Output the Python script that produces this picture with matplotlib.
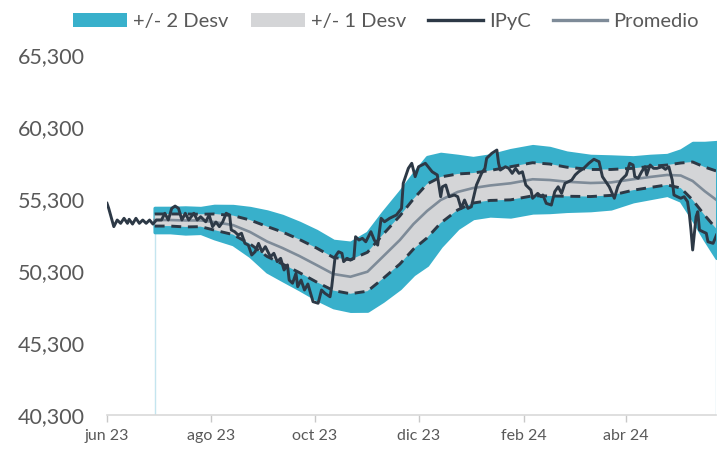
import matplotlib
matplotlib.use("Agg")
import matplotlib.pyplot as plt
from matplotlib.lines import Line2D
from matplotlib.patches import Patch
import pandas as pd

plt.rcParams["font.family"] = ["Lato", "DejaVu Sans"]

# --- datos ---
inicio = pd.Timestamp("2023-06-01")
fin = pd.Timestamp("2024-05-24")

# IPyC: dias desde el inicio y nivel
dias_ipyc = [
    0, 1, 4, 6, 8, 10, 12, 13, 15, 17, 19, 21, 23, 25, 27, 29, 32, 34, 36, 38,
    40, 42, 44, 46, 48, 51, 53, 55, 58, 60,
    62, 64, 66, 68, 70, 72, 73, 75, 77, 79, 81, 83, 85, 87, 89, 91, 93, 96, 98, 100,
    102, 104, 106, 107, 109, 111, 112, 114, 116, 118,
    121, 124, 126, 128, 131, 132, 134, 136, 138, 139, 141, 143, 145, 146, 148, 150,
    152, 155, 157, 159, 161, 163, 166, 170, 173, 174, 176, 177,
    179, 181, 183, 187, 191, 194, 196, 197, 199, 201, 204, 206, 208, 210, 212, 214,
    217, 220, 222, 223, 226, 229, 230, 231, 234, 236,
    238, 240, 242, 244, 246, 249, 250, 253, 255, 256, 258, 261, 263, 265, 267, 269,
    271, 273, 275, 277, 280, 283, 286, 289, 291, 293, 295,
    298, 300, 302, 305, 307, 309, 310, 312, 314, 316, 317, 319, 321, 323, 326, 328,
    330, 332, 333, 335, 337, 339, 341, 342, 343, 344, 346, 347, 348, 350, 352, 353,
    356, 358,
]
ipyc = [
    55000, 54650, 53380, 53840, 53610, 53960, 53610, 53890, 53560, 53960,
    53610, 53840, 53610, 53840, 53560, 53840, 53840, 54310, 53840, 54650,
    54810, 54650, 53840, 54310, 53840, 54310, 53840, 54070, 53720, 54190,
    53380, 53700, 53380, 53720, 54310, 54190, 53150, 53030, 52800, 52920,
    52220, 52100, 51410, 51640, 52220, 51640, 51990, 51290, 51530, 50950,
    51180, 50370, 50720, 49670, 49450, 50140, 49210, 49670, 48980, 49400,
    48170, 48060, 48980, 48750, 48510, 49210, 51290, 51640, 51530, 50950,
    51180, 51060, 51180, 52680, 52450, 52570, 52330, 53030, 52450, 52100,
    53960, 53720, 53960, 54190, 54650, 56390, 57080, 57430,
    57780, 56850, 57540, 57780, 57190, 56970, 55460, 56150, 56270, 55460,
    55580, 55460, 54650, 55230, 54650, 54760, 56270, 57080, 57430, 58130,
    58470, 58700, 57780, 57310, 57540, 57430,
    57080, 57430, 57080, 57190, 56270, 55920, 55350, 55690, 55460, 55580,
    55000, 54880, 55810, 56150, 55690, 56390, 56500, 56620, 56970, 57190,
    57430, 57780, 58060, 57890, 56850, 56500, 56150,
    55350, 56150, 56620, 56970, 57780, 57660, 56850, 56740, 57190, 57540,
    56970, 57660, 57430, 57430, 57540, 57360, 57540, 56620, 55580, 55460,
    55350, 55460, 55110, 54310, 53150, 51760, 54070, 54420, 53150, 53030,
    52920, 52330, 52220, 52800,
]

# bandas: promedio movil y una desviacion estandar
dias_banda = [
    28, 37, 46, 55, 63, 74, 84, 94, 103, 113, 123, 133, 143, 153, 162, 172, 180,
    188, 196, 206, 215, 225, 237, 250, 260, 270, 284, 296, 309, 319, 329, 337,
    344, 351, 358,
]
promedio = [
    53840, 53840, 53810, 53810, 53700, 53490, 53010, 52350, 51900, 51340,
    50720, 50090, 49900, 50250, 51290, 52450, 53560, 54470, 55230, 55790,
    56060, 56240, 56390, 56670, 56620, 56500, 56410, 56450, 56670, 56830,
    56970, 56930, 56550, 55850, 55230,
]
desv = [
    420, 420, 450, 430, 560, 660, 830, 1040, 1110, 1150,
    1180, 1150, 1180, 1350, 1530, 1670, 1740, 1870, 1600, 1250,
    1040, 1040, 1150, 1150, 1110, 1010, 940, 900, 760, 730,
    690, 870, 1320, 1670, 2010,
]

y_ticks = [40300, 45300, 50300, 55300, 60300, 65300]
x_ticks = ["2023-06-01", "2023-08-01", "2023-10-01", "2023-12-01", "2024-02-01", "2024-04-01"]
x_labels = ["jun 23", "ago 23", "oct 23", "dic 23", "feb 24", "abr 24"]

# --- estilo ---
TEAL = "#38B0CB"
GRIS = "#D4D5D7"
OSCURO = "#2D3946"
PROM = "#7E8B98"
TEXTO = "#595959"

fechas_ipyc = inicio + pd.to_timedelta(dias_ipyc, unit="D")
fechas_banda = inicio + pd.to_timedelta(dias_banda, unit="D")
prom = pd.Series(promedio, dtype=float)
sd = pd.Series(desv, dtype=float)
sup1, inf1 = prom + sd, prom - sd
sup2, inf2 = prom + 2 * sd, prom - 2 * sd

fig = plt.figure(figsize=(7.18, 4.5), dpi=100)
ax = fig.add_axes([107 / 718, 35 / 450, 609.5 / 718, 360 / 450])

ax.vlines([fechas_banda[0], fechas_banda[-1]], y_ticks[0], [inf2.iloc[0], inf2.iloc[-1]],
          color="#C4E5EF", linewidth=1.0, zorder=0)
ax.fill_between(fechas_banda, inf2, sup2, facecolor=TEAL, edgecolor=TEAL,
                linewidth=2.5, zorder=1)
ax.fill_between(fechas_banda, inf1, sup1, facecolor=GRIS, edgecolor="none", zorder=2)
ax.plot(fechas_banda, prom, color=PROM, linewidth=1.9, zorder=3)
for serie in (sup1, inf1):
    ax.plot(fechas_banda, serie, color=OSCURO, linewidth=2.1,
            linestyle=(0, (3.4, 2.3)), zorder=4)
ax.plot(fechas_ipyc, ipyc, color=OSCURO, linewidth=2.1, zorder=5)

ax.set_xlim(inicio, fin)
ax.set_ylim(y_ticks[0], y_ticks[-1])
ax.set_yticks(y_ticks)
ax.set_yticklabels([f"{v:,}" for v in y_ticks])
ax.set_xticks(pd.to_datetime(x_ticks))
ax.set_xticklabels(x_labels)

for lado in ("top", "right", "left"):
    ax.spines[lado].set_visible(False)
ax.spines["bottom"].set_color("#D9D9D9")
ax.spines["bottom"].set_linewidth(1.2)
ax.tick_params(axis="x", length=5, width=1, color="#C8C8C8", labelsize=11.5,
               labelcolor=TEXTO, pad=5)
ax.tick_params(axis="y", length=0, labelsize=15.5, labelcolor=TEXTO, pad=16)

handles = [
    Patch(facecolor=TEAL, edgecolor="none", label="+/- 2 Desv"),
    Patch(facecolor=GRIS, edgecolor="none", label="+/- 1 Desv"),
    Line2D([0], [0], color=OSCURO, linewidth=2.4, label="IPyC"),
    Line2D([0], [0], color=PROM, linewidth=2.4, label="Promedio"),
]
fig.legend(handles=handles, loc="center", bbox_to_anchor=(0.537, 0.953), ncol=4,
           frameon=False, fontsize=14.5, labelcolor=TEXTO, handlelength=2.7,
           handleheight=0.7, handletextpad=0.3, columnspacing=1.1, borderpad=0)

fig.savefig("out.png", dpi=100)
